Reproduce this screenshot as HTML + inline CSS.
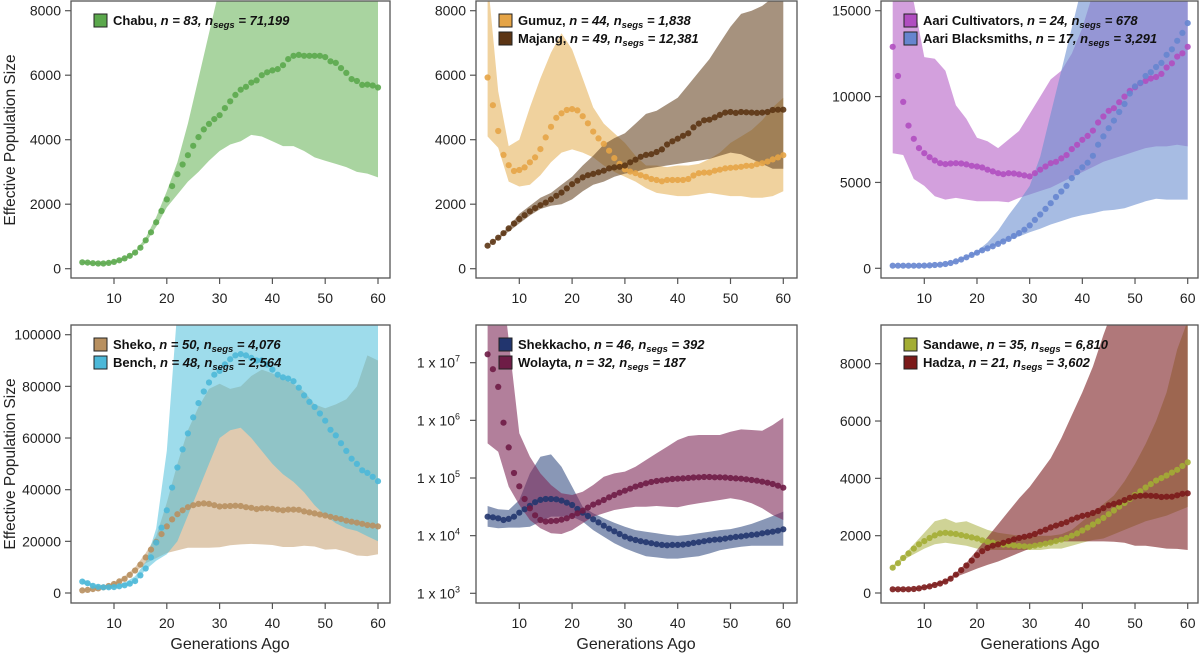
<!DOCTYPE html>
<html><head><meta charset="utf-8">
<style>
html,body{margin:0;padding:0;background:#fff;}
svg{display:block;font-family:"Liberation Sans",Arial,sans-serif;}
.tk{font-size:14px;fill:#222;}
.lg{font-size:13px;font-weight:bold;fill:#111;}
.ax{font-size:16px;fill:#222;}
.ay{font-size:15.5px;fill:#222;}
</style></head>
<body>
<svg id="fig" width="1200" height="653" viewBox="0 0 1200 653" xmlns="http://www.w3.org/2000/svg"></svg>
<script>
const gens = [4,5,6,7,8,9,10,11,12,13,14,15,16,17,18,19,20,21,22,23,24,25,26,27,28,29,30,31,32,33,34,35,36,37,38,39,40,41,42,43,44,45,46,47,48,49,50,51,52,53,54,55,56,57,58,59,60];
const bandGens = [4,6,8,10,12,14,16,18,20,22,24,26,28,30,32,34,36,38,40,42,44,46,48,50,52,54,56,58,60];

const chabuMean = [200,190,170,160,160,180,210,260,320,400,500,650,880,1130,1440,1790,2150,2560,2930,3230,3520,3810,4080,4320,4490,4640,4760,4980,5190,5390,5550,5640,5770,5840,6000,6090,6150,6190,6310,6500,6600,6630,6600,6600,6600,6600,6560,6430,6380,6220,6070,5880,5820,5700,5710,5680,5620];
const chabuLow = [180,150,140,190,290,470,800,1300,1900,2300,2700,3000,3350,3650,3850,3950,4150,4100,3950,3800,3800,3650,3450,3350,3250,3150,3000,2950,2830];
const chabuHigh = [220,190,180,230,340,540,960,1600,2400,3300,4500,5900,7300,8700,10000,11000,12000,12000,12000,12000,12000,12000,12000,12000,12000,12000,12000,12000,12000];

const gumuzMean = [5930,5070,4270,3530,3210,3030,3060,3140,3300,3450,3710,4070,4400,4680,4820,4920,4950,4910,4730,4510,4250,4040,3870,3660,3430,3250,3080,3010,2960,2900,2850,2780,2750,2710,2750,2750,2750,2750,2780,2890,2960,2980,2980,3040,3070,3110,3130,3140,3160,3190,3190,3240,3270,3320,3390,3450,3520];
const gumuzLow = [4100,3750,2700,2550,2600,2900,3300,3600,3700,3600,3450,3200,3000,2850,2700,2500,2350,2300,2250,2250,2300,2350,2300,2250,2250,2200,2200,2250,2400];
const gumuzHigh = [9000,5500,3800,4000,5000,5900,6700,7300,6800,5900,5000,4500,4200,3900,3500,3200,3200,3150,3200,3200,3250,3400,3600,3900,4100,4300,4600,5000,5300];
const majangMean = [713,830,960,1100,1250,1400,1540,1660,1780,1880,1970,2050,2150,2260,2360,2490,2620,2730,2830,2900,2940,2990,3040,3110,3140,3160,3200,3300,3380,3470,3530,3550,3620,3700,3850,3950,4030,4120,4200,4380,4500,4600,4620,4690,4770,4840,4860,4830,4860,4850,4840,4830,4840,4860,4920,4930,4930];
const majangLow = [700,920,1150,1400,1650,1850,1950,2000,2150,2400,2600,2700,2850,2950,3000,3100,3150,3200,3250,3300,3350,3400,3500,3600,3550,3400,3250,3100,3100];
const majangHigh = [720,1000,1300,1700,1950,2200,2350,2600,2850,3200,3500,3850,4050,4200,4500,4800,4900,5100,5300,5700,6100,6500,7000,7500,7900,8000,8150,8400,9000];

const cultMean = [12900,11200,9690,8310,7540,7000,6700,6470,6280,6120,6070,6100,6120,6100,6050,5970,5930,5870,5740,5640,5540,5480,5540,5520,5470,5410,5350,5540,5740,5930,6120,6200,6400,6590,6940,7190,7480,7710,8020,8490,8840,9170,9320,9670,10000,10330,10540,10780,10910,11050,11140,11320,11690,11940,12330,12520,12900];
const cultLow = [6700,6600,5200,4800,4200,4000,4100,4000,3900,3900,3900,3850,4100,4300,4500,4700,5000,5300,5600,5900,6200,6400,6600,6800,7000,7100,7100,7200,7100];
const cultHigh = [16000,16000,15500,12300,12200,11500,9500,8700,7600,7400,7000,7500,8000,9000,10000,11000,11500,12500,14000,16000,16000,16000,16000,16000,16000,16000,16000,16000,16000];
const smithMean = [150,150,150,150,150,150,160,170,190,210,250,310,400,510,640,780,910,1050,1160,1280,1420,1560,1710,1880,2050,2250,2500,2820,3130,3460,3790,4150,4470,4800,5250,5600,5880,6150,6550,7200,7680,8160,8600,9100,9570,10180,10590,10800,11200,11420,11720,11960,12430,12750,13250,13710,14280];
const smithLow = [140,140,140,150,180,230,370,600,850,1150,1400,1650,1850,2100,2300,2550,2750,2950,3100,3200,3350,3400,3500,3700,3900,4050,4000,4000,4000];
const smithHigh = [160,160,160,170,200,270,430,700,1000,1500,2200,3100,3900,4800,6500,9000,11500,14000,16500,16500,16500,16500,16500,16500,16500,16500,16500,16500,16500];

const shekoMean = [1000,1200,1500,1800,2200,2700,3500,4500,5500,7000,8700,11000,13800,16800,19800,22800,25800,28500,30500,32000,33200,34000,34500,34700,34500,34000,33500,33600,33700,33800,33700,33200,33000,32500,32800,32800,32600,32300,32000,32300,32300,32200,31600,31200,30800,30400,30000,29500,29000,28600,28000,27600,27200,26800,26300,26100,25800];
const shekoLow = [900,1300,2000,3000,5000,8000,11500,13500,15500,16500,17500,17500,17500,17700,18500,18800,19000,18800,18600,17800,17800,18300,18000,16800,17000,16000,14500,14300,15000];
const shekoHigh = [1200,1600,2500,4000,6500,10000,15500,22000,35000,50000,63000,72000,79000,81000,79000,80000,84000,86500,85000,83000,81000,78000,73000,71500,73000,75000,80000,92000,90000];
const benchMean = [4400,3800,2800,2400,2200,2200,2300,2600,3000,3600,4600,6800,9500,13800,19500,25300,32000,40800,48600,55600,61800,68000,73500,78000,81500,84500,86000,88500,90500,92000,92500,92000,91000,90000,90000,88500,86500,84500,83500,83000,82000,79500,76500,74000,72000,69500,66700,63200,61000,58000,55000,52000,50000,47500,46500,45000,43300];
const benchLow = [3500,2500,1800,1800,2500,4000,9000,12500,15000,20000,30000,40000,50000,60000,63000,64000,60000,55000,50000,46000,43000,39000,34000,30000,27000,25000,24000,22000,20000];
const benchHigh = [5500,3500,2700,3000,4000,6500,12000,25000,55000,110000,110000,110000,110000,110000,110000,110000,110000,110000,110000,110000,110000,110000,110000,110000,110000,110000,110000,110000,110000];

const shekkMean = [21300,20800,20000,18700,19500,21300,25000,28700,33000,38000,41700,43300,43300,42700,40500,37300,34000,29000,25000,21900,19200,17000,14900,13200,11900,10700,9600,8900,8400,8000,7700,7400,7100,6900,6800,6900,6900,7000,7200,7500,7700,8000,8300,8500,8600,8900,9200,9500,9700,10000,10300,10500,11000,11400,11700,12200,12900];
const shekkLow = [14300,13400,13800,13800,14300,17500,21400,21400,21400,17500,12500,9600,7400,6000,5100,4400,4200,4000,4000,4200,4400,4900,5600,6000,6400,6700,6700,6700,6700];
const shekkHigh = [32700,28600,27900,41500,120000,234000,257000,157000,70800,31800,24400,20000,16800,14300,12500,11700,11000,10300,9900,10300,11000,11700,12500,13000,14300,16000,18700,21900,26100];
const wolMean = [14000000,7700000,3800000,910000,340000,122000,71700,43300,29800,22500,18700,17500,17900,18100,18900,20000,21900,24400,27100,30600,34500,37800,41500,46200,50700,55700,60300,65300,70800,75700,80900,85300,88700,91200,93600,96100,97300,98500,99900,102000,103000,104000,104000,103000,103000,102000,99900,98500,97300,94800,92300,89900,86300,83000,78700,73600,67900];
const wolLow = [399000,286000,70800,34000,18700,13400,11000,10700,12500,16400,21400,24400,27900,29800,31800,31800,32700,31800,31000,34000,36400,38900,41500,44400,41500,36400,29800,22800,18700];
const wolHigh = [1e9,1e9,25000000,596000,234000,120000,75700,54200,50700,57900,75700,105000,120000,129000,157000,205000,268000,349000,456000,535000,557000,557000,557000,636000,698000,680000,662000,830000,1110000];

const sandMean = [884,1040,1220,1380,1550,1700,1810,1920,2010,2080,2100,2080,2060,2020,1980,1940,1900,1840,1790,1760,1720,1690,1680,1660,1640,1630,1620,1650,1680,1720,1760,1810,1860,1920,2000,2080,2180,2280,2390,2500,2620,2750,2880,3010,3140,3280,3420,3550,3680,3800,3920,4010,4100,4200,4300,4430,4560];
const sandLow = [850,1150,1350,1550,1700,1750,1700,1650,1550,1500,1500,1500,1500,1500,1500,1550,1550,1650,1750,1850,1900,2050,2200,2350,2500,2600,2700,2850,3000];
const sandHigh = [950,1300,1700,2100,2500,2600,2450,2500,2350,2200,2100,2050,2000,1950,2000,2000,2050,2200,2500,2800,3100,3400,3900,4500,5200,6000,7000,8500,9500];
const hadzaMean = [130,130,130,130,140,160,200,230,280,330,400,500,640,800,960,1130,1320,1460,1570,1650,1700,1750,1810,1870,1920,1960,2000,2060,2140,2210,2290,2350,2410,2470,2560,2630,2690,2730,2790,2860,2960,3060,3110,3160,3240,3320,3370,3390,3400,3390,3380,3350,3360,3360,3410,3460,3480];
const hadzaLow = [120,120,130,180,260,380,560,700,850,980,1100,1250,1400,1550,1650,1700,1800,1800,1800,1800,1800,1790,1750,1650,1650,1600,1550,1540,1500];
const hadzaHigh = [140,140,150,220,320,450,700,1050,1500,1950,2400,2850,3300,3700,4200,4700,5400,6200,7000,7900,9000,10000,10000,10000,10000,10000,10000,10000,10000];

const xTicks = [10,20,30,40,50,60];
const ticksLin8 = [0,2000,4000,6000,8000];
const ticks15 = [0,5000,10000,15000];
const ticks100 = [0,20000,40000,60000,80000,100000];
const ticksLog = [1e3,1e4,1e5,1e6,1e7];

const NS='http://www.w3.org/2000/svg';
const svg=document.getElementById('fig');
function mk(tag,attrs,parent){const e=document.createElementNS(NS,tag);for(const k in attrs)e.setAttribute(k,attrs[k]);(parent||svg).appendChild(e);return e;}

function linY(v0px,vTopPx,vTop){return v=>v0px-(v0px-vTopPx)*v/vTop;}
function logY(p3,p7){return v=>p3-(p3-p7)*(Math.log10(v)-3)/4;}
function xS(px10,px60){return g=>px10+(px60-px10)*(g-10)/50;}

const panels=[
 {id:'chabu',bx:71,by:1,bw:319,bh:277,x:xS(114,378),y:linY(268.7,10.7,8000),yt:ticksLin8,
  series:[{name:'Chabu',n:'83',seg:'71,199',c:'#5ba84c',band:'#6fb861',ba:0.6,m:chabuMean,lo:chabuLow,hi:chabuHigh}]},
 {id:'gumuz-majang',bx:476,by:1,bw:321,bh:277,x:xS(519.3,783.3),y:linY(268.7,10.7,8000),yt:ticksLin8,
  series:[{name:'Gumuz',n:'44',seg:'1,838',c:'#e5a446',band:'#e6b45e',ba:0.6,m:gumuzMean,lo:gumuzLow,hi:gumuzHigh},
          {name:'Majang',n:'49',seg:'12,381',c:'#5c3514',band:'#6b4a28',ba:0.6,m:majangMean,lo:majangLow,hi:majangHigh}]},
 {id:'aari',bx:881,by:1,bw:317,bh:277,x:xS(924.3,1187.7),y:linY(268.3,10.7,15000),yt:ticks15,
  series:[{name:'Aari Cultivators',n:'24',seg:'678',c:'#b04ec0',band:'#b660c6',ba:0.6,m:cultMean,lo:cultLow,hi:cultHigh},
          {name:'Aari Blacksmiths',n:'17',seg:'3,291',c:'#6685cf',band:'#6c8fd0',ba:0.6,m:smithMean,lo:smithLow,hi:smithHigh}]},
 {id:'sheko-bench',bx:71,by:325,bw:319,bh:278,x:xS(114,378),y:linY(593,334.7,100000),yt:ticks100,
  series:[{name:'Sheko',n:'50',seg:'4,076',c:'#b89060',band:'#c49e70',ba:0.55,m:shekoMean,lo:shekoLow,hi:shekoHigh},
          {name:'Bench',n:'48',seg:'2,564',c:'#4cb8d8',band:'#4fc0da',ba:0.55,m:benchMean,lo:benchLow,hi:benchHigh}]},
 {id:'shekkacho-wolayta',bx:476,by:325,bw:321,bh:278,x:xS(519.3,783.3),y:logY(593.3,362.7),yt:ticksLog,log:true,
  series:[{name:'Shekkacho',n:'46',seg:'392',c:'#22356e',band:'#3a5286',ba:0.6,m:shekkMean,lo:shekkLow,hi:shekkHigh},
          {name:'Wolayta',n:'32',seg:'187',c:'#6e1c46',band:'#7e2a58',ba:0.6,m:wolMean,lo:wolLow,hi:wolHigh}]},
 {id:'sandawe-hadza',bx:881,by:325,bw:317,bh:278,x:xS(924.3,1187.7),y:linY(593,363.7,8000),yt:ticksLin8,
  series:[{name:'Sandawe',n:'35',seg:'6,810',c:'#a3ad34',band:'#a8ae40',ba:0.55,m:sandMean,lo:sandLow,hi:sandHigh},
          {name:'Hadza',n:'21',seg:'3,602',c:'#7b1a1a',band:'#7c1e22',ba:0.6,m:hadzaMean,lo:hadzaLow,hi:hadzaHigh}]}
];

panels.forEach((p,pi)=>{
  const g=mk('g',{});
  
  
  const cp=mk('clipPath',{id:'cp'+pi},g);
  mk('rect',{x:p.bx,y:p.by,width:p.bw,height:p.bh},cp);
  const plot=mk('g',{'clip-path':'url(#cp'+pi+')'},g);
  p.series.forEach(s=>{
    let pts=[];
    bandGens.forEach((gg,i)=>pts.push(p.x(gg).toFixed(1)+','+p.y(s.hi[i]).toFixed(1)));
    for(let i=bandGens.length-1;i>=0;i--)pts.push(p.x(bandGens[i]).toFixed(1)+','+p.y(s.lo[i]).toFixed(1));
    const poly=mk('polygon',{points:pts.join(' '),fill:s.band,'fill-opacity':s.ba},plot);
    
    
  });
  p.series.forEach(s=>{
    gens.forEach((gg,i)=>{
      const c=mk('circle',{cx:p.x(gg).toFixed(1),cy:p.y(s.m[i]).toFixed(1),r:3.1,fill:s.c,'fill-opacity':0.9},plot);
      
      
    });
  });
  const box=mk('rect',{x:p.bx,y:p.by,width:p.bw,height:p.bh,fill:'none',stroke:'#555','stroke-width':1.3},g);
  
  
  p.yt.forEach(v=>{
    const yy=p.y(v);
    mk('line',{x1:p.bx-6,x2:p.bx,y1:yy,y2:yy,stroke:'#555','stroke-width':1.2},g);
    const t=mk('text',{x:p.bx-10,y:yy+5,'text-anchor':'end',class:'tk'},g);
    
    
    if(p.log){
      t.textContent='1 x 10';
      const sp=mk('tspan',{dy:-6,'font-size':'9px'},t);
      sp.textContent=String(Math.round(Math.log10(v)));
      t.setAttribute('x',p.bx-16);
    } else t.textContent=String(v);
  });
  const by2=p.by+p.bh;
  xTicks.forEach(v=>{
    const xx=p.x(v);
    mk('line',{x1:xx,x2:xx,y1:by2,y2:by2+6,stroke:'#555','stroke-width':1.2},g);
    const t=mk('text',{x:xx,y:by2+25,'text-anchor':'middle',class:'tk'},g);
    
    
    t.textContent=String(v);
  });
  p.series.forEach((s,i)=>{
    const ly=p.by+13+i*18;
    const lg=mk('g',{},g);
    
    
    mk('rect',{x:p.bx+23,y:ly,width:13,height:13,fill:s.c,stroke:'#222','stroke-width':1},lg);
    const t=mk('text',{x:p.bx+42,y:ly+11,class:'lg'},lg);
    t.appendChild(document.createTextNode(s.name+', '));
    const a=mk('tspan',{'font-style':'italic'},t);a.textContent='n = '+s.n+', n';
    const b=mk('tspan',{'font-style':'italic',dy:3,'font-size':'9.5px'},t);b.textContent='segs';
    const c=mk('tspan',{'font-style':'italic',dy:-3},t);c.textContent=' = '+s.seg;
  });
});
[140,464].forEach(yc=>{
  const t=mk('text',{x:0,y:0,transform:'translate(15,'+yc+') rotate(-90)','text-anchor':'middle',class:'ay'});
  
  
  t.textContent='Effective Population Size';
});
[230,636,1040].forEach(x=>{
  const t=mk('text',{x:x,y:649,'text-anchor':'middle',class:'ax'});
  
  
  t.textContent='Generations Ago';
});
</script>
</body></html>
